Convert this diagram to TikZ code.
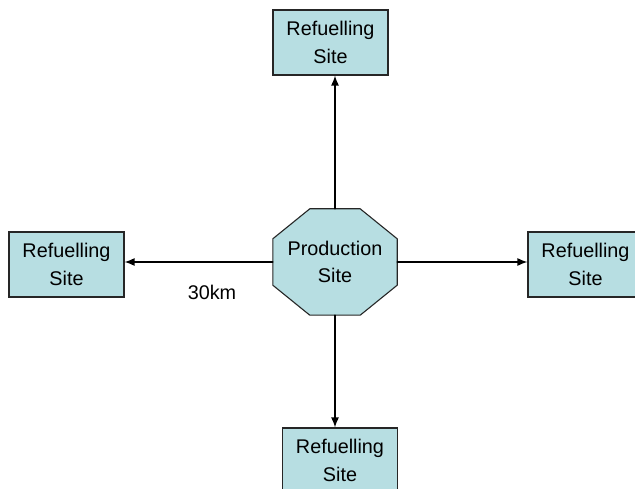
\documentclass[tikz,border=0pt]{standalone}
\usepackage{fontspec}
\setmainfont{Liberation Sans}
\usepackage{xcolor}
\usetikzlibrary{arrows.meta,calc,backgrounds}
\definecolor{sitefill}{RGB}{183,222,226}

\begin{document}
\begin{tikzpicture}[x=1pt,y=-1pt,line cap=round,
  font=\fontsize{19.8}{27.5}\selectfont,
  sitebox/.style={draw=black!85,line width=1.1pt,fill=sitefill,align=center,
    minimum width=115,minimum height=65,inner sep=0pt},
  prodbox/.style={align=center,minimum width=124,minimum height=106,inner sep=0pt},
  octline/.style={draw=black!85,line width=1.1pt,fill=sitefill,line join=miter},
  link/.style={line width=1.4pt,-{Latex[length=10,width=8]}}]
\clip (0,0) rectangle (635,489);
\def\cx{37} % corner cut, horizontal
\def\cy{30} % corner cut, vertical
% sites
\node[prodbox] (prod) at (335,262) {Production\\Site};
\node[sitebox] (top) at (330.5,42.5) {Refuelling\\Site};
\node[sitebox] (left) at (66.5,264.5) {Refuelling\\Site};
\node[sitebox] (right) at (585.5,264.5) {Refuelling\\Site};
\node[sitebox] (bot) at (340,460.5) {Refuelling\\Site};
% octagon round the production site
\begin{scope}[on background layer]
\draw[octline] ($(prod.north west)+(\cx,0)$) -- ($(prod.north east)+(-\cx,0)$)
  -- ($(prod.north east)+(0,\cy)$) -- ($(prod.south east)+(0,-\cy)$)
  -- ($(prod.south east)+(-\cx,0)$) -- ($(prod.south west)+(\cx,0)$)
  -- ($(prod.south west)+(0,-\cy)$) -- ($(prod.north west)+(0,\cy)$) -- cycle;
\end{scope}
% connections
\draw[link] (prod.north) -- (prod.north |- top.south);
\draw[link] (prod.south) -- (prod.south |- bot.north);
\draw[link] (prod.west) -- (prod.west -| left.east);
\draw[link] (prod.east) -- (prod.east -| right.west);
% distance
\node (dist) at (212,292) {30km};
\end{tikzpicture}
\end{document}
